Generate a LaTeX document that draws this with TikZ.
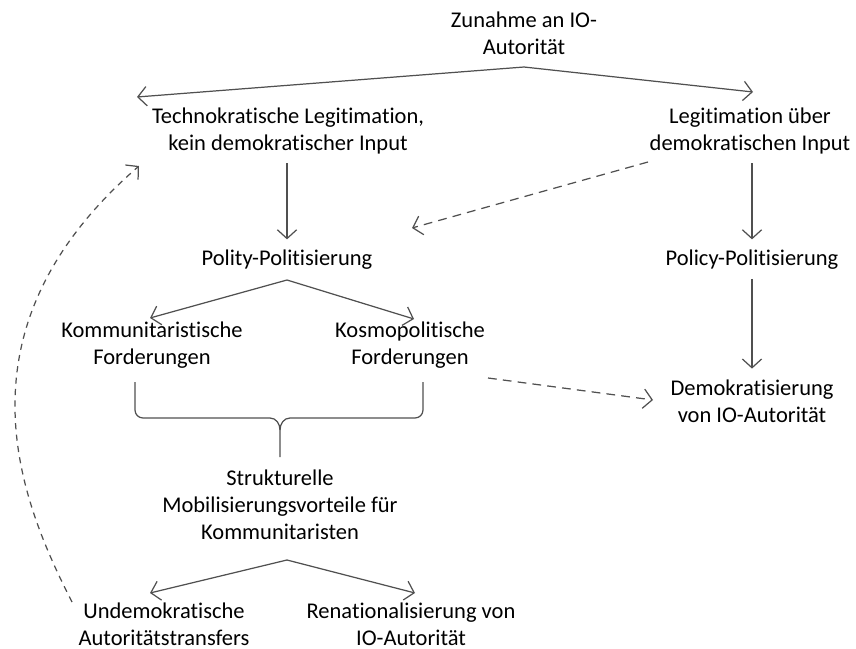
\documentclass[tikz,border=0pt]{standalone}
\usepackage{fontspec}
\setmainfont{Carlito}[Ligatures=NoCommon]
\usetikzlibrary{arrows.meta,calc}
\definecolor{linegray}{RGB}{80,80,80}
\tikzset{
    txt/.style={align=center, inner sep=2pt, font=\fontsize{12.8}{15.5}\selectfont},
    arr/.style={draw=linegray, line width=0.7pt, -{Straight Barb[length=5pt,width=11pt]}},
    varr/.style={arr, shorten <=3pt, shorten >=4pt},
    darr/.style={arr, dash pattern=on 5pt off 3.5pt},
}
\begin{document}
\begin{tikzpicture}[x=0.02cm, y=-0.02cm]
        \useasboundingbox (0,0) rectangle (856,649);
        \node[txt] (top)      at (524,33)  {Zunahme an IO-\\Autorität};
        \node[txt] (techno)   at (288,131) {Technokratische Legitimation,\\kein demokratischer Input};
        \node[txt] (legit)    at (750,131) {Legitimation über\\demokratischen Input};
        \node[txt] (polity)   at (287,260) {Polity-Politisierung};
        \node[txt] (policy)   at (752,260) {Policy-Politisierung};
        \node[txt] (kommun)   at (152,345) {Kommunitaristische\\Forderungen};
        \node[txt] (kosmo)    at (410,345) {Kosmopolitische\\Forderungen};
        \node[txt] (demokrat) at (752,401) {Demokratisierung\\von IO-Autorität};
        \node[txt] (struktur) at (280,505) {Strukturelle\\Mobilisierungsvorteile für\\Kommunitaristen};
        \node[txt] (undemo)   at (164,624) {Undemokratische\\Autoritätstransfers};
        \node[txt] (renat)    at (411,624) {Renationalisierung von\\IO-Autorität};
        % fork points
        \coordinate (forkA) at (524,67);
        \coordinate (forkB) at (287,280);
        \coordinate (forkC) at (287,560);
        \draw[arr] (forkA) -- (137,97);
        \draw[arr] (forkA) -- (753,92);
        \draw[arr] (forkB) -- (150,318);
        \draw[arr] (forkB) -- (414,319);
        \draw[arr] (forkC) -- (150,593);
        \draw[arr] (forkC) -- (415,593);
        \draw[varr] (polity |- techno.south) -- (polity.north);
        \draw[varr] (policy |- legit.south) -- (policy.north);
        \draw[varr] (policy.south) -- (demokrat.north);
        \draw[darr] (648,162) -- (412,228);
        \draw[darr] (488,378) -- (653,400);
        \draw[arr, dash pattern=on 3.5pt off 3pt] (72,602) .. controls (20,500) and (-50,330) .. (139,166);
        % brace
        \draw[linegray, line width=0.7pt] (135,382) -- (135,410) to[out=-90,in=180] (143,418) -- (270,418) to[out=0,in=90] (280,430) -- (280,457);
        \draw[linegray, line width=0.7pt] (423,382) -- (423,410) to[out=-90,in=0] (415,418) -- (290,418) to[out=180,in=90] (280,430);
    \end{tikzpicture}
\end{document}
